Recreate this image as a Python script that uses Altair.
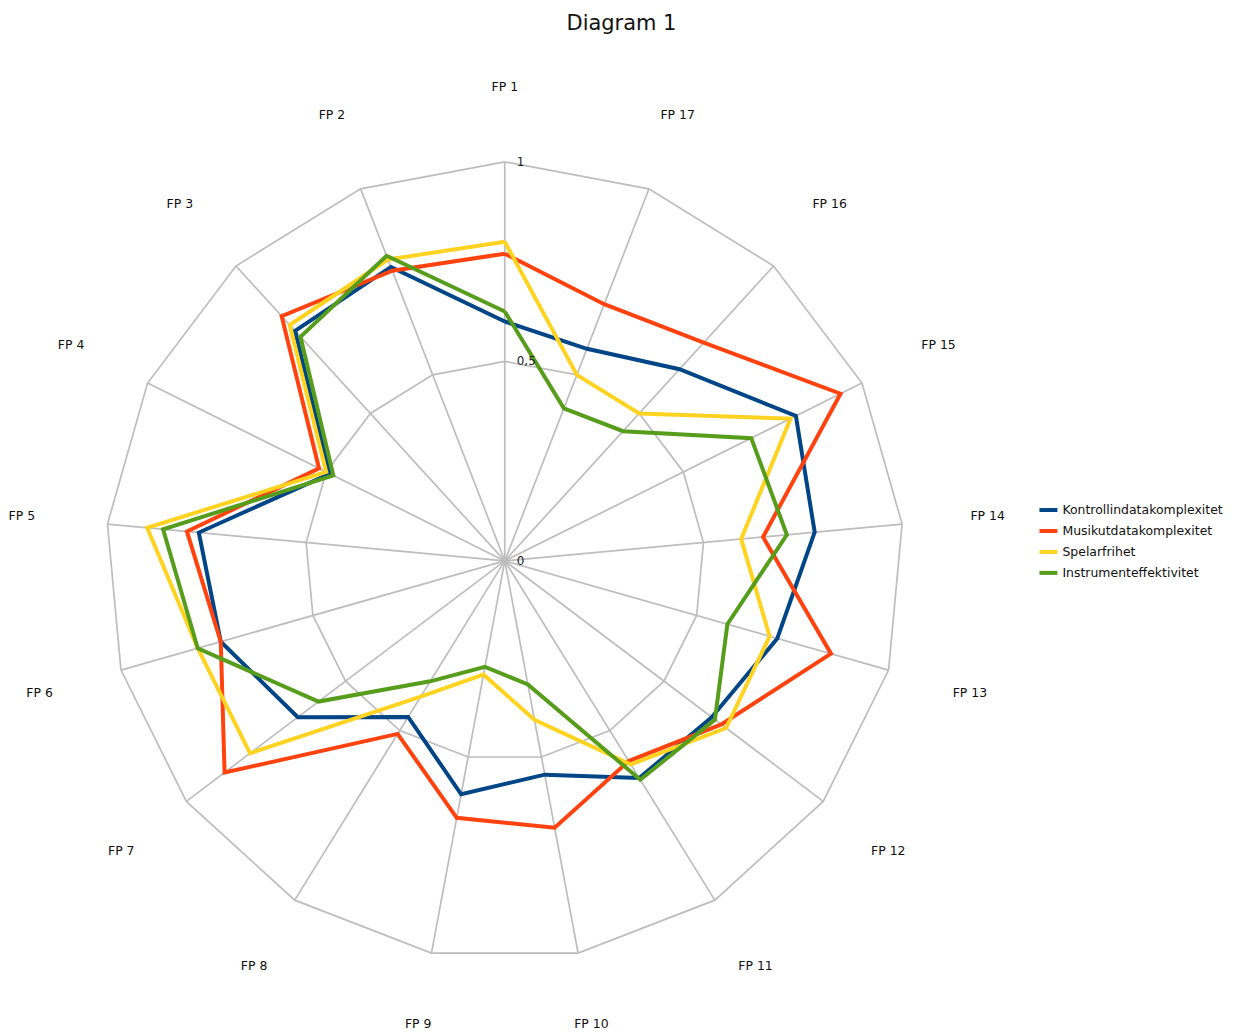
import altair as alt
import pandas as pd

# ---- data ----
categories = [f"FP {i}" for i in range(1, 18)]
series_names = ["Kontrollindatakomplexitet", "Musikutdatakomplexitet",
                "Spelarfrihet", "Instrumenteffektivitet"]
kontroll = [0.60, 0.79, 0.78, 0.49, 0.77, 0.74, 0.65, 0.46, 0.595, 0.545,
            0.64, 0.65, 0.71, 0.78, 0.815, 0.65, 0.57]
musik = [0.77, 0.78, 0.83, 0.52, 0.80, 0.74, 0.88, 0.51, 0.655, 0.68,
         0.59, 0.68, 0.85, 0.65, 0.94, 0.74, 0.69]
spelar = [0.80, 0.81, 0.80, 0.50, 0.90, 0.80, 0.80, 0.40, 0.29, 0.405,
          0.60, 0.695, 0.69, 0.595, 0.80, 0.50, 0.50]
instrument = [0.625, 0.82, 0.76, 0.48, 0.86, 0.80, 0.585, 0.355, 0.27, 0.315,
              0.645, 0.66, 0.58, 0.71, 0.69, 0.44, 0.41]
series_values = [kontroll, musik, spelar, instrument]
colors = ["#004586", "#ff420e", "#ffd320", "#579d1c"]
ring_values = [0.5, 1.0]
tick_values = [0, 0.5, 1]
tick_labels = ["0", "0,5", "1"]
title_text = "Diagram 1"

N = len(categories)
FONT = "DejaVu Sans"

# ---- tables built from the arrays ----
rows = []
for name, vals in zip(series_names, series_values):
    for k in range(N + 1):
        i = k % N
        rows.append({"series": name, "cat": categories[i], "idx": i, "ord": k, "value": vals[i]})
series_df = pd.DataFrame(rows)

ring_rows = []
for r in ring_values:
    for k in range(N + 1):
        ring_rows.append({"ring": r, "idx": k % N, "ord": k, "value": r})
ring_df = pd.DataFrame(ring_rows)

spoke_df = pd.DataFrame({"idx": list(range(N)), "value": [1.0] * N})
label_df = pd.DataFrame({"idx": list(range(N)), "cat": categories})
tick_df = pd.DataFrame({"value": tick_values, "label": tick_labels})
title_df = pd.DataFrame({"t": [title_text]})

ANG = f"datum.idx * 2 * PI / {N}"

x_scale = alt.Scale(domain=[-1.245, 1.81], nice=False, zero=False)
y_scale = alt.Scale(domain=[-1.1775, 1.3825], nice=False, zero=False)

def polar(chart):
    return chart.transform_calculate(
        ang=ANG
    ).transform_calculate(
        px="-datum.value * sin(datum.ang)",
        py="datum.value * cos(datum.ang)",
    )

GRID = "#bdbdbd"

rings = polar(alt.Chart(ring_df)).mark_line(color=GRID, strokeWidth=1.7).encode(
    x=alt.X("px:Q", scale=x_scale, axis=None),
    y=alt.Y("py:Q", scale=y_scale, axis=None),
    detail="ring:N",
    order="ord:Q",
)

spokes = polar(alt.Chart(spoke_df)).transform_calculate(zero="0").mark_rule(
    color=GRID, strokeWidth=1.7
).encode(
    x=alt.X("zero:Q", scale=x_scale, axis=None),
    y=alt.Y("zero:Q", scale=y_scale, axis=None),
    x2="px:Q",
    y2="py:Q",
)

color_scale = alt.Scale(domain=series_names, range=colors)

series_layers = []
for name in series_names:
    layer = polar(alt.Chart(series_df)).transform_filter(
        alt.datum.series == name
    ).mark_line(strokeWidth=4, strokeJoin="miter").encode(
        x=alt.X("px:Q", scale=x_scale, axis=None),
        y=alt.Y("py:Q", scale=y_scale, axis=None),
        color=alt.Color("series:N", scale=color_scale, sort=series_names,
                        legend=alt.Legend(
                            title=None, orient="none", legendX=1032, legendY=491,
                            symbolType="stroke", symbolSize=324, symbolStrokeWidth=4,
                            labelFont=FONT, labelFontSize=12.5, labelColor="#111",
                            labelLimit=0, labelOffset=3, rowPadding=2, padding=0,
                        )),
        order="ord:Q",
    )
    series_layers.append(layer)

# category labels: sit just outside the outer ring, pushed out by the label's half-width
cat_labels = alt.Chart(label_df).transform_calculate(
    ang=ANG
).transform_calculate(
    lr="(472.5 + 13.5 * abs(sin(datum.ang)) + 2.5 * cos(datum.ang)) / 400"
).transform_calculate(
    px="-datum.lr * sin(datum.ang)",
    py="datum.lr * cos(datum.ang)",
).mark_text(
    font=FONT, fontSize=12.5, color="#111", align="center", baseline="middle"
).encode(
    x=alt.X("px:Q", scale=x_scale, axis=None),
    y=alt.Y("py:Q", scale=y_scale, axis=None),
    text="cat:N",
)

tick_text = alt.Chart(tick_df).transform_calculate(zero="0").mark_text(
    font=FONT, fontSize=12, color="#222", align="left", baseline="middle", dx=12
).encode(
    x=alt.X("zero:Q", scale=x_scale, axis=None),
    y=alt.Y("value:Q", scale=y_scale, axis=None),
    text="label:N",
)

title = alt.Chart(title_df).mark_text(
    font=FONT, fontSize=21, color="#111", align="center", baseline="middle"
).encode(
    x=alt.value(615), y=alt.value(15), text="t:N"
)

chart = alt.layer(rings, spokes, *series_layers, cat_labels, tick_text, title).properties(
    width=1222, height=1024, padding=0, background="white"
).configure_view(strokeWidth=0, stroke=None)

chart.save("out.html", embed_options={"renderer": "svg", "actions": False})
